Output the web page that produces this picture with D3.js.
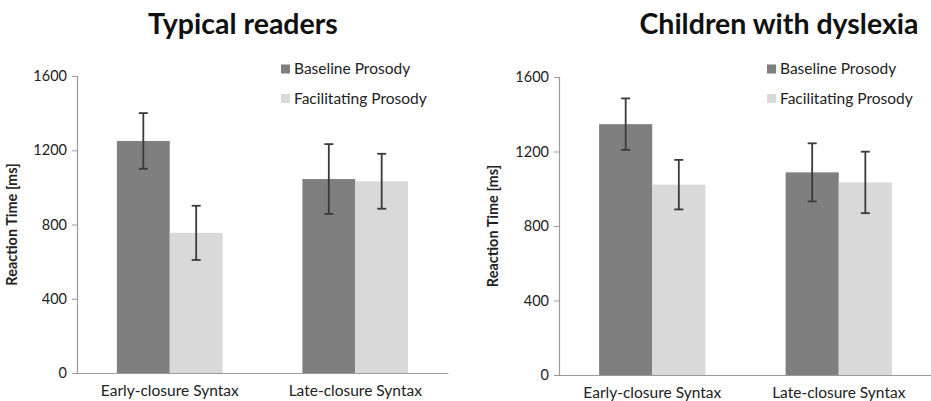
<!DOCTYPE html>
<html lang="en">
<head>
    <meta charset="UTF-8">
    <title>Reaction Time by Prosody</title>
    <style>
        body {
            margin: 0;
            background: #fff;
            font-family: Lato, "Open Sans", sans-serif;
        }
    </style>
</head>
<body>
    <div id="chart"></div>
    <script src="https://d3js.org/d3.v7.min.js"></script>
    <script>
        const width = 931;
        const height = 401;

        const categories = ["Early-closure Syntax", "Late-closure Syntax"];
        const seriesNames = ["Baseline Prosody", "Facilitating Prosody"];
        const yTicks = [0, 400, 800, 1200, 1600];

        // mean reaction times (ms), one array per series, in category order
        const typicalBaseline = [1250, 1045];
        const typicalFacilitating = [755, 1033];
        const typicalBaselineErr = [150, 188];
        const typicalFacilitatingErr = [146, 148];

        const dyslexiaBaseline = [1347, 1088];
        const dyslexiaFacilitating = [1022, 1034];
        const dyslexiaBaselineErr = [138, 156];
        const dyslexiaFacilitatingErr = [133, 165];

        const colors = ["#7f7f7f", "#d9d9d9"];

        const svg = d3.select("#chart").append("svg")
            .attr("width", width)
            .attr("height", height);

        const panels = [
            {
                title: "Typical readers", titleX: 243,
                left: 77, right: 448, top: 76, bottom: 373,
                values: [typicalBaseline, typicalFacilitating],
                errors: [typicalBaselineErr, typicalFacilitatingErr],
                legendX: 281, labelX: 12
            },
            {
                title: "Children with dyslexia", titleX: 779,
                left: 559, right: 932, top: 77, bottom: 375,
                values: [dyslexiaBaseline, dyslexiaFacilitating],
                errors: [dyslexiaBaselineErr, dyslexiaFacilitatingErr],
                legendX: 767, labelX: 493
            }
        ];

        panels.forEach(p => {
            const g = svg.append("g");

            const y = d3.scaleLinear().domain([0, 1600]).range([p.bottom, p.top]);
            const x0 = d3.scaleBand().domain(categories).range([p.left, p.right]).padding(0);
            const groupW = x0.bandwidth() * 0.57;

            // title
            g.append("text")
                .attr("x", p.titleX)
                .attr("y", 34)
                .attr("text-anchor", "middle")
                .attr("font-size", 28.5)
                .attr("font-weight", "bold")
                .attr("fill", "#111")
                .text(p.title);

            // bars
            categories.forEach((cat, ci) => {
                const cx = x0(cat) + x0.bandwidth() / 2;
                const x1 = d3.scaleBand().domain(seriesNames)
                    .range([cx - groupW / 2, cx + groupW / 2]).padding(0);
                seriesNames.forEach((s, si) => {
                    const v = p.values[si][ci];
                    const e = p.errors[si][ci];
                    g.append("rect")
                        .attr("x", x1(s))
                        .attr("y", y(v))
                        .attr("width", x1.bandwidth())
                        .attr("height", y(0) - y(v))
                        .attr("fill", colors[si]);

                    const ex = x1(s) + x1.bandwidth() / 2;
                    g.append("line")
                        .attr("x1", ex).attr("x2", ex)
                        .attr("y1", y(v + e)).attr("y2", y(v - e))
                        .attr("stroke", "#3a3a3a").attr("stroke-width", 1.8);
                    [v + e, v - e].forEach(t => {
                        g.append("line")
                            .attr("x1", ex - 4.5).attr("x2", ex + 4.5)
                            .attr("y1", y(t)).attr("y2", y(t))
                            .attr("stroke", "#3a3a3a").attr("stroke-width", 1.8);
                    });
                });
            });

            // y axis
            const yAxis = d3.axisLeft(y).tickValues(yTicks).tickFormat(d3.format("d"))
                .tickSize(5).tickPadding(5);
            const ya = g.append("g")
                .attr("transform", `translate(${p.left},0)`)
                .call(yAxis);
            ya.select(".domain").attr("stroke", "#9a9a9a").attr("stroke-width", 1.2);
            ya.selectAll(".tick line").attr("stroke", "#9a9a9a");
            ya.selectAll(".tick text")
                .attr("font-family", "Lato, sans-serif")
                .attr("font-size", 14.5)
                .attr("fill", "#222");

            // x axis
            const xAxis = d3.axisBottom(x0).tickSize(0).tickPadding(12);
            const xa = g.append("g")
                .attr("transform", `translate(0,${p.bottom})`)
                .call(xAxis);
            xa.select(".domain").attr("stroke", "#9a9a9a").attr("stroke-width", 1.2);
            xa.selectAll(".tick text")
                .attr("font-family", "Lato, sans-serif")
                .attr("font-size", 15.5)
                .attr("fill", "#222");

            // y axis label
            g.append("text")
                .attr("transform", `translate(${p.labelX},${(p.top + p.bottom) / 2}) rotate(-90)`)
                .attr("text-anchor", "middle")
                .attr("dy", "0.35em")
                .attr("font-size", 14.5)
                .attr("font-weight", "bold")
                .attr("fill", "#222")
                .text("Reaction Time [ms]");

            // legend
            seriesNames.forEach((s, si) => {
                const ly = 69 + si * 29.5;
                g.append("rect")
                    .attr("x", p.legendX)
                    .attr("y", ly - 4.5)
                    .attr("width", 9)
                    .attr("height", 9)
                    .attr("fill", colors[si]);
                g.append("text")
                    .attr("x", p.legendX + 13)
                    .attr("y", ly)
                    .attr("dy", "0.35em")
                    .attr("font-size", 15.5)
                    .attr("fill", "#222")
                    .text(s);
            });
        });
    </script>
</body>
</html>
